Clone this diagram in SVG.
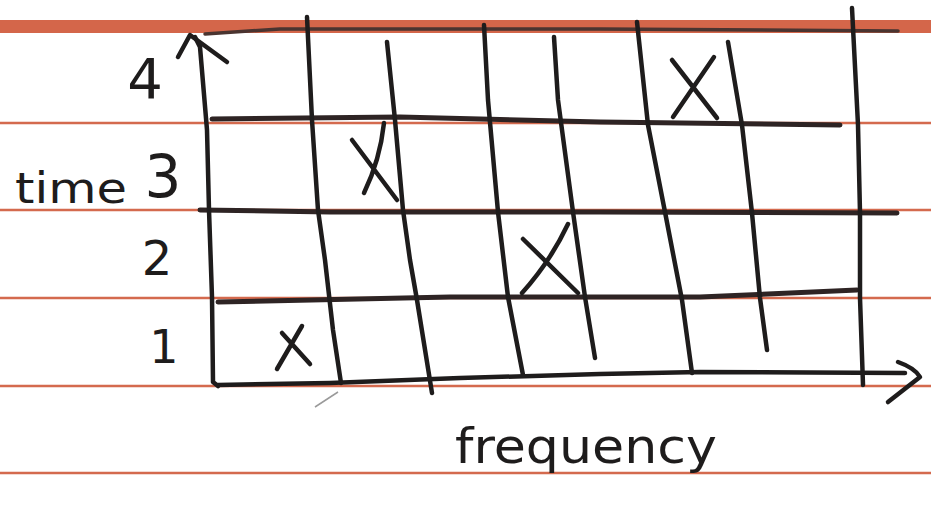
<svg xmlns="http://www.w3.org/2000/svg" width="931" height="517" viewBox="0 0 931 517">
  <style>
    .rule { stroke: #d46a4e; stroke-width: 2.5; fill: none; }
    .ink { fill: none; stroke: #1e1c1c; stroke-width: 4.5; stroke-linecap: round; stroke-linejoin: round; }
    .row { fill: none; stroke: #2e2424; stroke-width: 5; stroke-linecap: round; stroke-linejoin: round; }
    .mark { fill: none; stroke: #1e1c1c; stroke-width: 4.5; stroke-linecap: round; stroke-linejoin: round; }
    .hand { font-family: "DejaVu Sans", "Liberation Sans", sans-serif; fill: #1e1c1c; }
  </style>
  <rect x="0" y="0" width="931" height="517" fill="#ffffff"/>

  <g id="paper">
    <rect x="0" y="20" width="931" height="13" fill="#d4664a"/>
    <line class="rule" x1="0" y1="123" x2="931" y2="123"/>
    <line class="rule" x1="0" y1="210" x2="931" y2="210"/>
    <line class="rule" x1="0" y1="298" x2="931" y2="298"/>
    <line class="rule" x1="0" y1="386" x2="931" y2="386"/>
    <line class="rule" x1="0" y1="473" x2="931" y2="473"/>
  </g>

  <g id="grid-rows">
    <polyline points="205,34 280,29 600,29 898,31" fill="none" stroke="#4a3430" stroke-width="3.5" stroke-linecap="round" stroke-linejoin="round"/>
    <polyline class="row" points="212,119 400,117 600,122 840,125"/>
    <polyline class="row" points="200,210 330,212 600,212 897,213"/>
    <polyline class="row" points="218,302 450,297 700,297 857,290"/>
  </g>

  <g id="grid-columns">
    <polyline class="ink" points="307,17 312,120 318,210 325,260 333,330 341,383"/>
    <polyline class="ink" points="387,42 395,120 403,210 410,260 417,300 432,393"/>
    <polyline class="ink" points="484,25 488,100 498,212 508,297 523,375"/>
    <polyline class="ink" points="554,37 558,100 573,212 585,297 595,358"/>
    <polyline class="ink" points="637,22 648,125 665,212 682,300 692,373"/>
    <polyline class="ink" points="728,42 742,125 752,213 760,298 767,350"/>
    <polyline class="ink" points="852,8 858,125 860,213 860,298 863,385"/>
  </g>

  <g id="axes">
    <polyline class="ink" points="195,37 200,47 207,130 209,210 212,297 213,382 218,386"/>
    <polyline class="ink" points="178,57 190,35 227,62"/>
    <polyline class="ink" points="218,385 330,383 460,378 600,374 700,372 905,373"/>
    <path class="ink" d="M898,362 Q915,368 920,377 L888,402"/>
    <line x1="315" y1="407" x2="338" y2="392" stroke="#9a9a9a" stroke-width="1.5"/>
  </g>

  <g id="marks">
    <path class="mark" d="M282,333 L310,364 M302,326 L277,369"/>
    <path class="mark" d="M352,140 L397,200 M384,123 Q380,160 364,193"/>
    <path class="mark" d="M523,239 L578,293 M568,224 Q550,262 522,293"/>
    <path class="mark" d="M672,60 L717,118 M714,57 L673,117"/>
  </g>

  <g id="labels">
    <text class="hand" x="145" y="98" font-size="56" text-anchor="middle">4</text>
    <text class="hand" x="163" y="197" font-size="58" text-anchor="middle">3</text>
    <text class="hand" x="157" y="275" font-size="48" text-anchor="middle">2</text>
    <text class="hand" x="164" y="363" font-size="46" text-anchor="middle">1</text>
    <text class="hand" x="15" y="203" font-size="42" textLength="112" lengthAdjust="spacingAndGlyphs">time</text>
    <text class="hand" x="455" y="463" font-size="48" textLength="262" lengthAdjust="spacingAndGlyphs">frequency</text>
  </g>
</svg>
